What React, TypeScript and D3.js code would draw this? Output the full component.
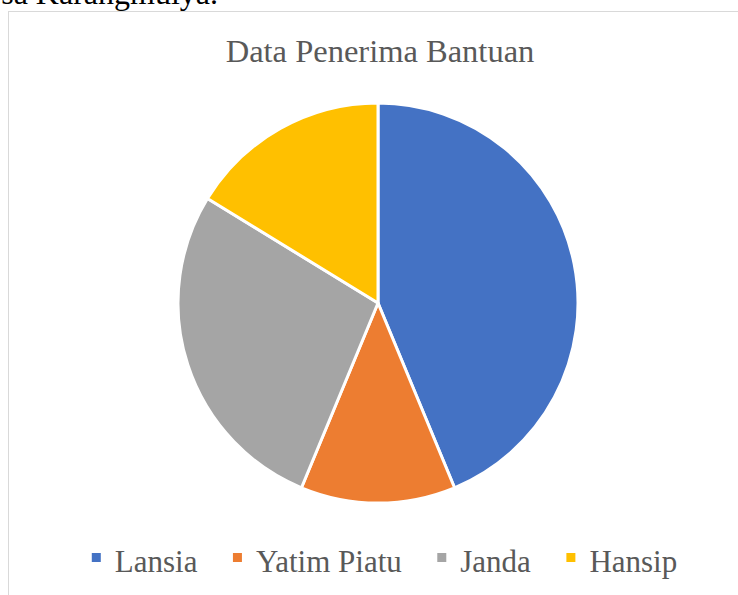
import React, { useEffect, useRef } from 'react';
import * as d3 from 'd3';

// Chart data
const categories = ['Lansia', 'Yatim Piatu', 'Janda', 'Hansip'];
const values = [35, 10, 22, 13];
const colors = ['#4472C4', '#ED7D31', '#A5A5A5', '#FFC000'];
const chartTitle = 'Data Penerima Bantuan';
const aboveText = 'Desa Karangmulya.';

const App = () => {
  const svgRef = useRef<SVGSVGElement | null>(null);

  useEffect(() => {
    const width = 738;
    const height = 595;
    const cx = 378;
    const cy = 303;
    const radius = 200;
    const font = '"Liberation Serif", "Times New Roman", serif';

    const svg = d3.select(svgRef.current);
    svg.selectAll('*').remove();
    svg.attr('width', width).attr('height', height);

    // Text from the document above, cut off at the top
    svg
      .append('text')
      .attr('x', 218)
      .attr('y', 4)
      .attr('text-anchor', 'end')
      .attr('font-family', font)
      .attr('font-size', 32)
      .attr('fill', '#000')
      .text(aboveText);

    // Chart frame
    svg
      .append('rect')
      .attr('x', 8.5)
      .attr('y', 11.5)
      .attr('width', width + 10)
      .attr('height', height + 10)
      .attr('fill', '#fff')
      .attr('stroke', '#D9D9D9')
      .attr('stroke-width', 1);

    // Title
    svg
      .append('text')
      .attr('x', 380)
      .attr('y', 62)
      .attr('text-anchor', 'middle')
      .attr('font-family', font)
      .attr('font-size', 32.5)
      .attr('fill', '#595959')
      .text(chartTitle);

    // Pie
    const data = categories.map((name, i) => ({ name, value: values[i], color: colors[i] }));
    const pie = d3
      .pie<{ name: string; value: number; color: string }>()
      .value((d) => d.value)
      .sort(null);
    const arc = d3
      .arc<d3.PieArcDatum<{ name: string; value: number; color: string }>>()
      .innerRadius(0)
      .outerRadius(radius);

    svg
      .append('g')
      .attr('transform', `translate(${cx}, ${cy})`)
      .selectAll('path')
      .data(pie(data))
      .enter()
      .append('path')
      .attr('d', arc)
      .attr('fill', (d) => d.data.color)
      .attr('stroke', '#fff')
      .attr('stroke-width', 3)
      .attr('stroke-linejoin', 'round');

    // Legend
    const legend = svg.append('g');
    const markerSize = 9;
    const markerGap = 14;
    const itemGap = 35.5;
    let x = 0;
    categories.forEach((name, i) => {
      const item = legend.append('g').attr('transform', `translate(${x}, 0)`);
      item
        .append('rect')
        .attr('x', 0)
        .attr('y', -19)
        .attr('width', markerSize)
        .attr('height', markerSize)
        .attr('fill', colors[i]);
      const t = item
        .append('text')
        .attr('x', markerSize + markerGap)
        .attr('y', 0)
        .attr('font-family', font)
        .attr('font-size', 31)
        .attr('fill', '#595959')
        .text(name);
      const w = (t.node() as SVGTextElement).getComputedTextLength();
      x += markerSize + markerGap + w + itemGap;
    });
    const total = x - itemGap;
    legend.attr('transform', `translate(${384.5 - total / 2}, 572)`);
  }, []);

  return (
    <svg
      ref={svgRef}
      style={{ position: 'absolute', left: 0, top: 0, display: 'block' }}
    />
  );
};

export default App;
